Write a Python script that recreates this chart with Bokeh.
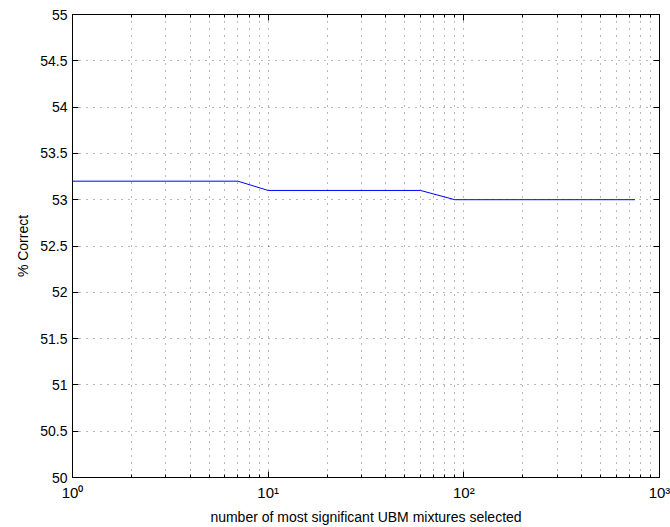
from bokeh.plotting import figure
from bokeh.models import FixedTicker, LogAxis, LinearAxis, Range1d
from bokeh.embed import file_html
from bokeh.resources import INLINE

# data
mixtures = [1, 7, 10, 60, 90, 750]
pct_correct = [53.2, 53.2, 53.1, 53.1, 53.0, 53.0]

x_major = [1, 10, 100, 1000]
x_minor = [m * d for d in (1, 10, 100) for m in range(2, 10)]
x_labels = {1: "10\u2070", 10: "10\u00b9", 100: "10\u00b2", 1000: "10\u00b3"}
y_ticks = [50, 50.5, 51, 51.5, 52, 52.5, 53, 53.5, 54, 54.5, 55]
y_labels = {50: "50", 50.5: "50.5", 51: "51", 51.5: "51.5", 52: "52", 52.5: "52.5",
            53: "53", 53.5: "53.5", 54: "54", 54.5: "54.5", 55: "55"}

FONT = "Liberation Sans"

p = figure(width=670, height=527, x_axis_type="log",
           x_range=Range1d(1, 1000), y_range=Range1d(50, 55),
           output_backend="svg", toolbar_location=None,
           min_border_left=72, min_border_right=11, min_border_top=14, min_border_bottom=50)
p.background_fill_color = "white"
p.border_fill_color = "white"
p.outline_line_color = "black"
p.outline_line_width = 1

p.line(mixtures, pct_correct, line_color="#0000ff", line_width=1)

xt = FixedTicker(ticks=x_major, minor_ticks=x_minor)
yt = FixedTicker(ticks=y_ticks)

xa = p.xaxis[0]
xa.ticker = xt
xa.major_label_overrides = x_labels
ya = p.yaxis[0]
ya.ticker = yt
ya.major_label_overrides = y_labels

for ax in (xa, ya):
    ax.axis_line_color = "black"
    ax.major_tick_in = 6
    ax.major_tick_out = 0
    ax.minor_tick_in = 3
    ax.minor_tick_out = 0
    ax.major_label_text_font = FONT
    ax.major_label_text_font_size = "14px"
    ax.major_label_text_color = "black"
    ax.axis_label_text_font = FONT
    ax.axis_label_text_font_size = "14px"
    ax.axis_label_text_font_style = "normal"
    ax.axis_label_text_color = "black"

xa.major_label_standoff = 6
xa.axis_label_standoff = 5
ya.major_label_standoff = 5
ya.axis_label_standoff = 6
xa.major_label_text_font_size = "15px"
xa.axis_label = "number of most significant UBM mixtures selected"
ya.axis_label = "% Correct"
ya.minor_tick_line_color = None

# top and right axes (box ticks)
top = LogAxis(ticker=FixedTicker(ticks=x_major, minor_ticks=x_minor))
right = LinearAxis(ticker=FixedTicker(ticks=y_ticks))
for ax in (top, right):
    ax.major_label_text_font_size = "0px"
    ax.major_label_text_color = None
    ax.major_tick_in = 6
    ax.major_tick_out = 0
    ax.minor_tick_in = 3
    ax.minor_tick_out = 0
    ax.axis_line_color = "black"
    ax.major_label_standoff = 0
right.minor_tick_line_color = None
p.add_layout(top, "above")
p.add_layout(right, "right")

for g in (p.xgrid[0], p.ygrid[0]):
    g.grid_line_color = "black"
    g.grid_line_alpha = 0.55
    g.grid_line_dash = "1 6"
    g.grid_line_width = 1
p.xgrid[0].ticker = xt
p.ygrid[0].ticker = yt
p.xgrid[0].minor_grid_line_color = "black"
p.xgrid[0].minor_grid_line_alpha = 0.55
p.xgrid[0].minor_grid_line_dash = "1 6"

open("out.html", "w").write(file_html(p, INLINE))
